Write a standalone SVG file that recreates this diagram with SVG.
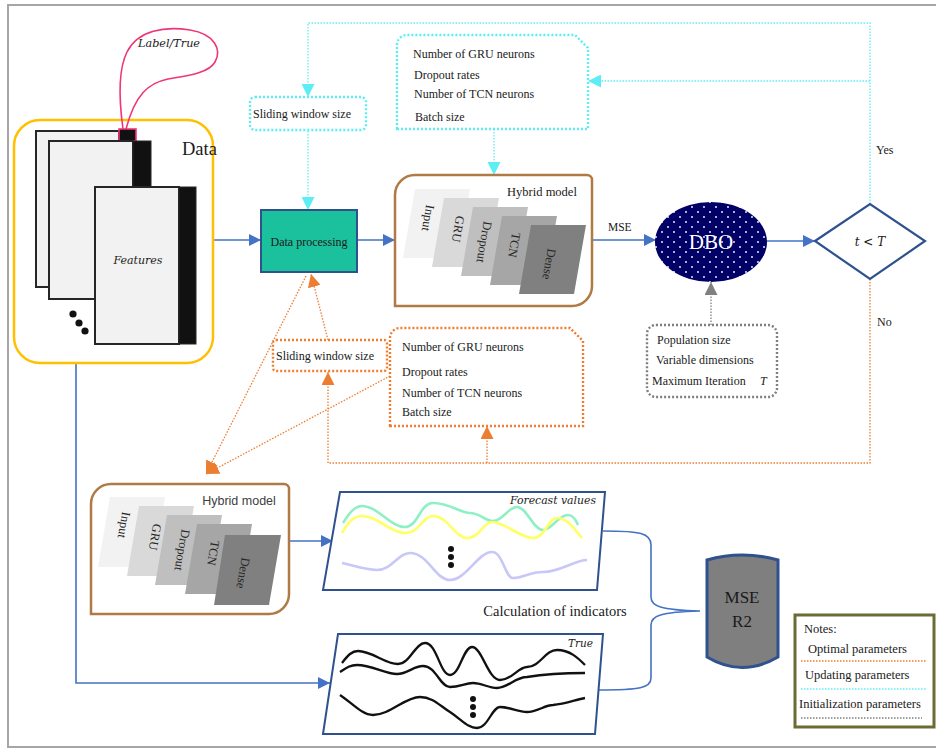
<svg xmlns="http://www.w3.org/2000/svg" width="936" height="751" viewBox="0 0 936 751">
<style>
.serif{font-family:"Liberation Serif","Times New Roman",serif;fill:#1a1a1a}
.sans{font-family:"Liberation Sans","Noto Sans",Arial,sans-serif;fill:#404040}
.ital{font-family:"DejaVu Serif","Liberation Serif",serif;font-style:italic;fill:#1a1a1a}
.blue{fill:none;stroke:#4472C4;stroke-width:1.6}
.cyan{fill:none;stroke:#5CEEF5;stroke-width:1.3;stroke-dasharray:1.5 1.5}
.orange{fill:none;stroke:#ED7D31;stroke-width:1.3;stroke-dasharray:1.5 1.5}
.gray{fill:none;stroke:#808080;stroke-width:1.3;stroke-dasharray:1.5 1.5}
.cbox{fill:#fff;stroke:#5CEEF5;stroke-width:2.4;stroke-dasharray:2 2}
.obox{fill:#fff;stroke:#ED7D31;stroke-width:2.4;stroke-dasharray:2 2}
.gbox{fill:#fff;stroke:#7F7F7F;stroke-width:2.4;stroke-dasharray:2 2}
.hyb{fill:#fff;stroke:#B07A45;stroke-width:2.5}
.para{fill:#fff;stroke:#2F528F;stroke-width:2}
.paper{fill:#F2F2F2;stroke:#262626;stroke-width:2}
.strip{fill:#111;stroke:#262626;stroke-width:1}
.lt{font-family:"Liberation Serif","Times New Roman",serif;font-size:12.5px;fill:#262626;text-anchor:middle;dominant-baseline:central}
</style>
<defs>
<marker id="mb" viewBox="0 0 10 10" refX="10" refY="5" markerWidth="12" markerHeight="12" orient="auto" markerUnits="userSpaceOnUse"><path d="M0,0 L10,5 L0,10 z" fill="#4472C4"/></marker>
<marker id="mc" viewBox="0 0 10 10" refX="10" refY="5" markerWidth="13" markerHeight="13" orient="auto" markerUnits="userSpaceOnUse"><path d="M0,0 L10,5 L0,10 z" fill="#5CEEF5"/></marker>
<marker id="mo" viewBox="0 0 10 10" refX="10" refY="5" markerWidth="13" markerHeight="13" orient="auto" markerUnits="userSpaceOnUse"><path d="M0,0 L10,5 L0,10 z" fill="#ED7D31"/></marker>
<marker id="mg" viewBox="0 0 10 10" refX="10" refY="5" markerWidth="13" markerHeight="13" orient="auto" markerUnits="userSpaceOnUse"><path d="M0,0 L10,5 L0,10 z" fill="#808080"/></marker>
<pattern id="dots" width="12" height="10" patternUnits="userSpaceOnUse"><rect width="12" height="10" fill="#000066"/><circle cx="2" cy="2" r="0.9" fill="#fff"/><circle cx="8" cy="7" r="0.9" fill="#fff"/></pattern>
</defs>

<rect x="8" y="5" width="940" height="742" fill="#fff" stroke="#A6A6A6" stroke-width="2"/>

<g id="connectors">
<path class="blue" d="M213,240 H261" marker-end="url(#mb)"/>
<path class="blue" d="M357,240 H395" marker-end="url(#mb)"/>
<path class="blue" d="M592,240 H656" marker-end="url(#mb)"/>
<path class="blue" d="M767,241 H815" marker-end="url(#mb)"/>
<path class="blue" d="M76,363 V683 H330" marker-end="url(#mb)"/>
<path class="blue" d="M289,541 H333" marker-end="url(#mb)"/>
<path class="blue" stroke-width="1.2" d="M603,531 C640,531 651,533 651,545 L651,597 C651,606 660,610 700,611 C660,612 651,616 651,625 L651,678 C651,688 640,690 598,690"/>
<path class="cyan" d="M870,204 V23 H308 V97" marker-end="url(#mc)"/>
<path class="cyan" d="M870,81 H588" marker-end="url(#mc)"/>
<path class="cyan" d="M308,131 V210" marker-end="url(#mc)"/>
<path class="cyan" d="M494,129 V175" marker-end="url(#mc)"/>
<path class="gray" d="M711,325 V282" marker-end="url(#mg)"/>
<path class="orange" d="M870,279 V463 H328 V372" marker-end="url(#mo)"/>
<path class="orange" d="M487,463 V426" marker-end="url(#mo)"/>
<path class="orange" d="M328,340 L311,274" marker-end="url(#mo)"/>
<path class="orange" d="M306,276 L206,474" marker-end="url(#mo)"/>
<path class="orange" d="M390,376 L206,474" marker-end="url(#mo)"/>
<text class="serif" x="608" y="231" font-size="11.5">MSE</text>
<text class="serif" x="876" y="154" font-size="12">Yes</text>
<text class="serif" x="877" y="326" font-size="12">No</text>
<text class="serif" x="555" y="616" font-size="14.5" text-anchor="middle">Calculation  of indicators</text>
</g>

<g id="data">
<rect x="14" y="120" width="199" height="243" rx="26" fill="#fff" stroke="#FFC000" stroke-width="2.5"/>
<rect class="paper" x="36" y="131" width="83" height="156"/>
<rect x="119" y="129" width="17" height="12" fill="#111" stroke="#F0357A" stroke-width="1.6"/>
<rect class="paper" x="49" y="141" width="84" height="158"/>
<rect class="strip" x="133" y="141" width="18" height="46"/>
<rect class="paper" x="95" y="187" width="84" height="157"/>
<rect class="strip" x="179" y="187" width="17" height="157"/>
<text class="serif" x="182" y="155" font-size="18.5" font-weight="normal">Data</text>
<text class="ital" x="138" y="264" font-size="11" text-anchor="middle" textLength="49" lengthAdjust="spacingAndGlyphs">Features</text>
<circle cx="73" cy="314" r="3.6" fill="#111"/>
<circle cx="79" cy="323" r="3.6" fill="#111"/>
<circle cx="85" cy="331" r="3.6" fill="#111"/>
</g>

<g id="label-true">
<path d="M123,129 C119,100 118,70 127,52 C138,30 165,26 190,30 C215,34 222,50 215,62 C208,74 185,76 168,79 C148,83 135,95 126,129" fill="none" stroke="#F0357A" stroke-width="1.6"/>
<text class="ital" x="138" y="47" font-size="11" textLength="62" lengthAdjust="spacingAndGlyphs">Label/True</text>
</g>

<g id="sliding-window-init">
<rect class="cbox" x="250" y="97" width="116" height="33" rx="5"/>
<text class="serif" x="253" y="118" font-size="12">Sliding window size</text>
</g>

<g id="params-init">
<path class="cbox" d="M397,129 V45 A10,10 0 0 1 407,35 H575 L588,48 V129 Z"/>
<text class="serif" x="413" y="58" font-size="12">Number of GRU neurons</text>
<text class="serif" x="414" y="79" font-size="12">Dropout rates</text>
<text class="serif" x="414" y="98" font-size="12">Number of TCN neurons</text>
<text class="serif" x="415" y="121" font-size="12">Batch size</text>
</g>

<g id="data-processing">
<rect x="261" y="210" width="96" height="62" fill="#1BC19C" stroke="#2F528F" stroke-width="2"/>
<text class="serif" x="309" y="246" font-size="12" text-anchor="middle">Data processing</text>
</g>

<g id="hybrid-top">
<path class="hyb" d="M395,306 V195 A20,20 0 0 1 415,175 H587 A5,5 0 0 1 592,180 V286 A20,20 0 0 1 572,306 Z"/>
<g transform="translate(395,175)">
<polygon points="20,14 75,14 63,83 8,83" fill="#F2F2F2"/>
<polygon points="49,23 104,23 92,92 37,92" fill="#D9D9D9"/>
<polygon points="78,32 133,32 121,101 66,101" fill="#BFBFBF"/>
<polygon points="107,41 162,41 150,110 95,110" fill="#A6A6A6"/>
<polygon points="136,50 191,50 179,119 124,119" fill="#808080"/>
<text class="lt" transform="translate(33,43) rotate(100)">Input</text>
<text class="lt" transform="translate(63,54) rotate(100)">GRU</text>
<text class="lt" transform="translate(89,67) rotate(100)">Dropout</text>
<text class="lt" transform="translate(119,70) rotate(100)">TCN</text>
<text class="lt" transform="translate(154,89) rotate(100)">Dense</text>
</g>
<text class="serif" x="542" y="196" font-size="12.5" text-anchor="middle">Hybrid model</text>
</g>

<g id="dbo">
<ellipse cx="711" cy="242" rx="56" ry="40" fill="url(#dots)"/>
<text x="711" y="249" font-family="Liberation Serif,serif" font-size="21" fill="#fff" text-anchor="middle">DBO</text>
</g>

<g id="condition">
<polygon points="815,241 870,204 925,241 870,279" fill="#fff" stroke="#2F528F" stroke-width="2.2"/>
<text class="ital" x="870" y="246" font-size="12" text-anchor="middle">t &lt; T</text>
</g>

<g id="dbo-params">
<rect class="gbox" x="647" y="325" width="130" height="72" rx="9"/>
<text class="serif" x="657" y="344" font-size="12">Population size</text>
<text class="serif" x="656" y="364" font-size="12">Variable dimensions</text>
<text class="serif" x="652" y="385" font-size="12">Maximum Iteration</text>
<text class="serif" x="760" y="385" font-size="12" font-style="italic">T</text>
</g>

<g id="sliding-window-opt">
<rect class="obox" x="273" y="340" width="114" height="31" rx="3"/>
<text class="serif" x="276" y="360" font-size="12">Sliding window size</text>
</g>

<g id="params-opt">
<path class="obox" d="M390,426 V338 A10,10 0 0 1 400,328 H570 L583,341 V426 Z"/>
<text class="serif" x="402" y="351" font-size="12">Number of GRU neurons</text>
<text class="serif" x="402" y="376" font-size="12">Dropout rates</text>
<text class="serif" x="402" y="397" font-size="12">Number of TCN neurons</text>
<text class="serif" x="402" y="416" font-size="12">Batch size</text>
</g>

<g id="hybrid-bottom">
<path class="hyb" d="M91,614 V504 A20,20 0 0 1 111,484 H284 A5,5 0 0 1 289,489 V594 A20,20 0 0 1 269,614 Z"/>
<g transform="translate(91,484)">
<polygon points="19,13 74,13 62,83 7,83" fill="#F2F2F2"/>
<polygon points="48,22 103,22 91,92 36,92" fill="#D9D9D9"/>
<polygon points="76,31 131,31 119,101 64,101" fill="#BFBFBF"/>
<polygon points="106,40 161,40 149,110 94,110" fill="#A6A6A6"/>
<polygon points="134,51 190,51 178,121 123,121" fill="#808080"/>
<text class="lt" transform="translate(33,41) rotate(100)">Input</text>
<text class="lt" transform="translate(64,53) rotate(100)">GRU</text>
<text class="lt" transform="translate(91,66) rotate(100)">Dropout</text>
<text class="lt" transform="translate(122,69) rotate(100)">TCN</text>
<text class="lt" transform="translate(152,89) rotate(100)">Dense</text>
</g>
<text class="sans" x="239" y="505" font-size="12.5" text-anchor="middle">Hybrid model</text>
</g>

<g id="forecast">
<polygon class="para" points="340,492 605,492 597,590 323,590"/>
<path d="M343,523 C350,512 355,506 362,506 C378,506 390,527 405,527 C418,527 420,503 433,503 C450,503 460,513 470,513 C480,513 485,521 493,521 C503,521 508,507 517,507 C527,507 533,530 543,530 C552,530 558,515 568,515 C573,515 576,520 578,525" fill="none" stroke="#8EF0C4" stroke-width="2.6"/>
<path d="M342,533 C348,523 353,516 362,516 C378,516 390,533 405,533 C420,533 422,516 433,516 C448,516 455,538 467,538 C480,538 483,522 492,522 C505,522 520,538 533,538 C545,538 548,518 557,518 C568,518 575,530 582,538" fill="none" stroke="#FFFF66" stroke-width="2.6"/>
<path d="M342,563 C355,566 366,570 377,570 C392,570 398,553 410,553 C428,553 435,580 450,580 C466,580 478,552 492,552 C503,552 505,578 513,578 C522,578 530,572 543,572 C560,572 575,560 587,560" fill="none" stroke="#C8C8F8" stroke-width="2.6"/>
<circle cx="451" cy="549" r="3" fill="#111"/>
<circle cx="451" cy="557" r="3" fill="#111"/>
<circle cx="451" cy="565" r="3" fill="#111"/>
<text class="ital" x="596" y="504" font-size="10.5" text-anchor="end" textLength="86" lengthAdjust="spacingAndGlyphs">Forecast values</text>
</g>

<g id="true">
<polygon class="para" points="338,634 603,634 595,734 323,734"/>
<path d="M342,663 C348,655 352,651 358,651 C372,651 385,664 398,664 C410,664 415,643 425,643 C437,643 440,675 450,675 C460,675 463,647 472,647 C482,647 488,680 500,680 C512,680 518,667 527,667 C540,667 545,650 557,650 C570,650 578,658 585,665" fill="none" stroke="#111" stroke-width="2.3"/>
<path d="M340,672 C346,668 350,665 357,665 C372,665 385,674 397,674 C408,674 413,666 423,666 C436,666 440,687 450,687 C460,687 465,683 473,683 C482,683 488,688 497,688 C508,688 515,677 527,677 C545,674 565,673 585,673" fill="none" stroke="#111" stroke-width="2.3"/>
<path d="M340,695 C352,703 362,715 373,715 C390,715 405,697 420,697 C433,697 440,706 450,712 C462,720 468,728 477,728 C488,728 492,707 500,707 C510,707 518,712 527,712 C537,712 545,705 553,705 C565,704 575,700 585,698" fill="none" stroke="#111" stroke-width="2.3"/>
<circle cx="473" cy="699" r="3" fill="#111"/>
<circle cx="473" cy="707" r="3" fill="#111"/>
<circle cx="473" cy="715" r="3" fill="#111"/>
<text class="ital" x="593" y="647" font-size="10.5" text-anchor="end" textLength="25" lengthAdjust="spacingAndGlyphs">True</text>
</g>

<g id="metrics">
<path d="M707,560 Q742,550 778,560 V657 Q742,678 707,657 Z" fill="#7F7F7F" stroke="#2F528F" stroke-width="3"/>
<text class="serif" x="742" y="603" font-size="17" text-anchor="middle">MSE</text>
<text class="serif" x="742" y="627" font-size="17" text-anchor="middle">R2</text>
</g>

<g id="notes">
<rect x="795" y="615" width="139" height="112" fill="#fff" stroke="#6B6B35" stroke-width="3"/>
<text class="serif" x="804" y="633" font-size="12.5">Notes:</text>
<text class="serif" x="808" y="653" font-size="12.5">Optimal parameters</text>
<line x1="801" y1="661" x2="926" y2="661" class="orange"/>
<text class="serif" x="805" y="679" font-size="12.5">Updating parameters</text>
<line x1="801" y1="689" x2="926" y2="689" class="cyan"/>
<text class="serif" x="799" y="708" font-size="12.5">Initialization  parameters</text>
<line x1="801" y1="718" x2="922" y2="718" class="gray" stroke="#555"/>
</g>
</svg>
